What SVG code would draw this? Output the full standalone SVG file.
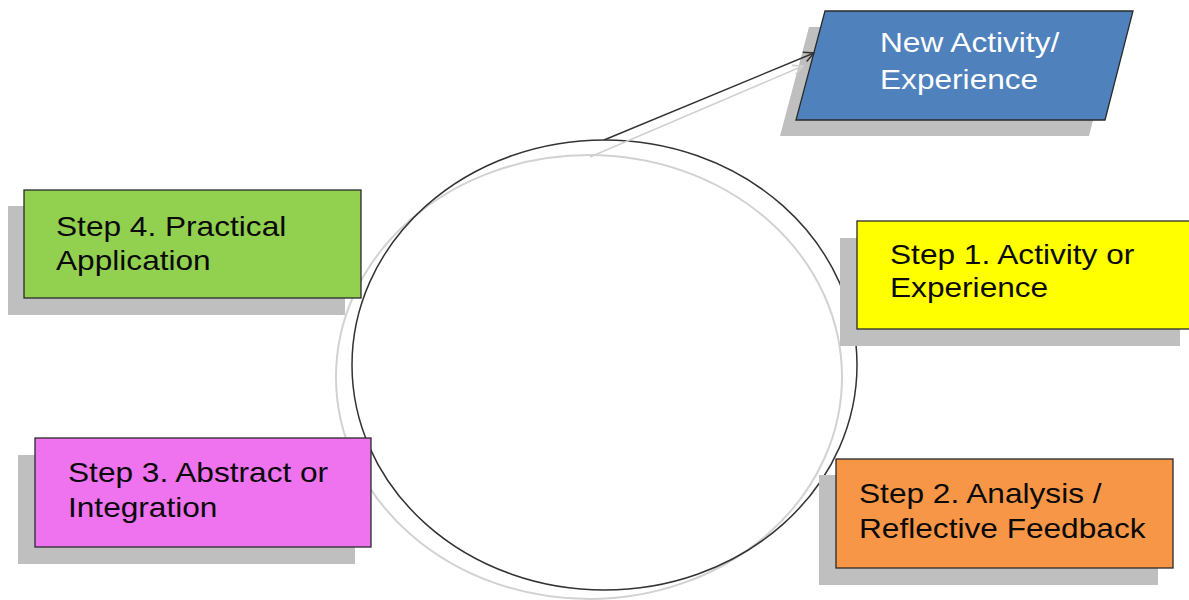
<svg xmlns="http://www.w3.org/2000/svg" width="1189" height="600" viewBox="0 0 1189 600">
<style>
.box{stroke:#2a2a2a;stroke-width:1.3}
.shadow{fill:#bfbfbf}
.lbl{font-family:"Liberation Sans",Arial,sans-serif;font-size:28px;fill:#0a0a0a}
.wlbl{font-family:"Liberation Sans",Arial,sans-serif;font-size:28px;fill:#ffffff}
</style>
<defs>
<marker id="ah" viewBox="0 0 12 12" refX="11" refY="6" markerWidth="12" markerHeight="12" markerUnits="userSpaceOnUse" orient="auto">
<path d="M1,1 L11,6 L1,11" fill="none" stroke="#333" stroke-width="1.6"/>
</marker>
<marker id="ahg" viewBox="0 0 12 12" refX="11" refY="6" markerWidth="12" markerHeight="12" markerUnits="userSpaceOnUse" orient="auto">
<path d="M1,1 L11,6 L1,11" fill="none" stroke="#d0d0d0" stroke-width="1.6"/>
</marker>
</defs>
<rect width="1189" height="600" fill="#ffffff"/>
<g id="cycle">
<ellipse cx="589" cy="377" rx="253" ry="222" fill="none" stroke="#d2d2d2" stroke-width="2"/>
<ellipse cx="604.5" cy="365" rx="252.5" ry="225" fill="none" stroke="#333" stroke-width="1.5"/>
</g>
<g id="new-activity">
<polygon class="shadow" points="809,27 1117,27 1089,136 780,136"/>
<polygon class="box" fill="#4f81bd" points="825,11 1133,11 1105,120 796,120"/>
<text class="wlbl" transform="translate(880,52) scale(1.13,1)">New Activity/</text>
<text class="wlbl" transform="translate(880,89) scale(1.13,1)">Experience</text>
</g>
<g id="step4">
<rect class="shadow" x="8" y="206" width="337" height="109"/>
<rect class="box" fill="#92d050" x="24" y="190" width="337" height="108"/>
<text class="lbl" transform="translate(56,236) scale(1.13,1)">Step 4. Practical</text>
<text class="lbl" transform="translate(56,270) scale(1.13,1)">Application</text>
</g>
<g id="step1">
<rect class="shadow" x="840" y="238" width="340" height="108"/>
<rect class="box" fill="#ffff00" x="857" y="221" width="340" height="108"/>
<text class="lbl" transform="translate(890,264) scale(1.13,1)">Step 1. Activity or</text>
<text class="lbl" transform="translate(890,297) scale(1.13,1)">Experience</text>
</g>
<g id="step3">
<rect class="shadow" x="18" y="455" width="337" height="109"/>
<rect class="box" fill="#ef72ef" x="35" y="438" width="336" height="109"/>
<text class="lbl" transform="translate(68,482) scale(1.13,1)">Step 3. Abstract or</text>
<text class="lbl" transform="translate(68,517) scale(1.13,1)">Integration</text>
</g>
<g id="step2">
<rect class="shadow" x="819" y="475" width="339" height="110"/>
<rect class="box" fill="#f79646" x="836" y="459" width="337" height="109"/>
<text class="lbl" transform="translate(859,503) scale(1.13,1)">Step 2. Analysis /</text>
<text class="lbl" transform="translate(859,538) scale(1.13,1)">Reflective Feedback</text>
</g>
<g id="connectors">
<line x1="590" y1="157" x2="803" y2="66" stroke="#d0d0d0" stroke-width="1.5" marker-end="url(#ahg)"/>
<line x1="604" y1="140" x2="814" y2="53" stroke="#333" stroke-width="1.5" marker-end="url(#ah)"/>
</g>
</svg>
